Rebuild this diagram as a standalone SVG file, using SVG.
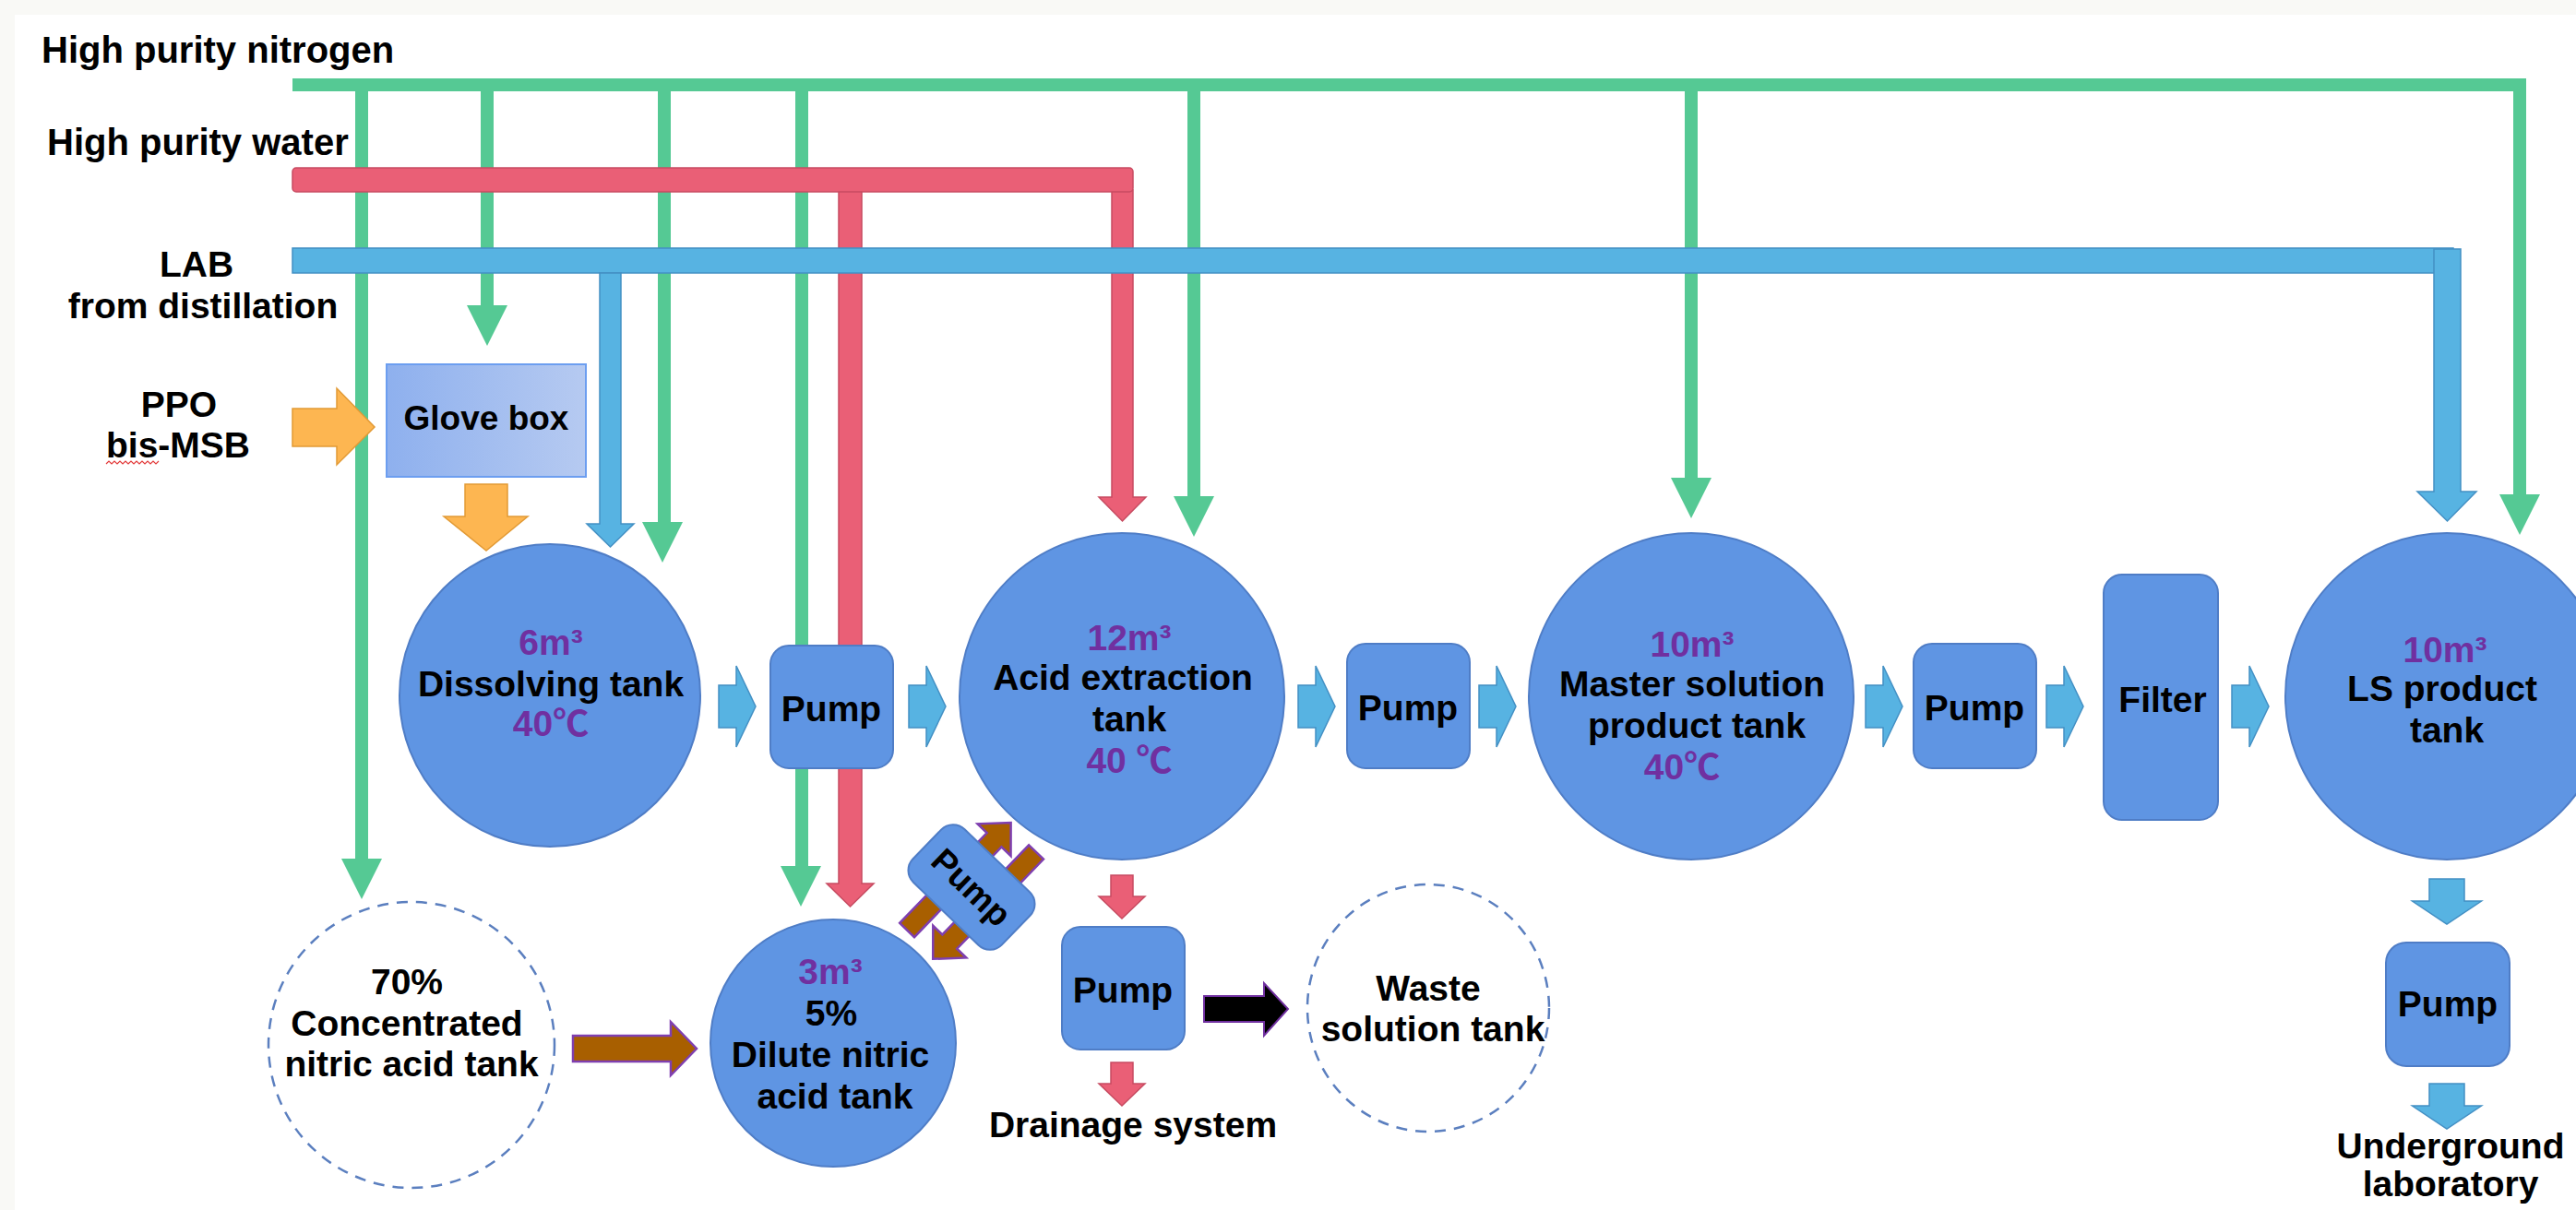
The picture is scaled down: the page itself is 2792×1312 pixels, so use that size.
<svg xmlns="http://www.w3.org/2000/svg" width="2792" height="1312" viewBox="0 0 2792 1312">
  <defs>
    <style>
      text { font-family: 'Liberation Sans', 'Noto Sans CJK SC', sans-serif; font-weight: bold; fill: #000; }
      .lbl { font-size: 40px; }
      .t { font-size: 39px; text-anchor: middle; }
      .v { font-size: 39px; text-anchor: middle; fill: #7030a0; }
      .tank { fill: #5f95e3; stroke: #4f7dc6; stroke-width: 2; }
      .box { fill: #5f95e3; stroke: #4f7dc6; stroke-width: 2; }
      .dash { fill: #fff; stroke: #5b7fbf; stroke-width: 2.5; stroke-dasharray: 12 9; }
      .gl { stroke: #55c994; stroke-width: 14; fill: none; }
      .gh { fill: #55c994; }
      .red { fill: #ea5f76; stroke: #c74b61; stroke-width: 1.5; }
      .blue { fill: #57b3e2; stroke: #4390c4; stroke-width: 1.5; }
      .orange { fill: #fdb651; stroke: #e29a35; stroke-width: 1.5; }
      .brown { fill: #a85f00; stroke: #7f3fb0; stroke-width: 2.5; }
      .black { fill: #000; stroke: #7030a0; stroke-width: 2; }
    </style>
    <!-- green arrowhead, tip at origin -->
    <path id="gHead" d="M-22,-44 L22,-44 L0,0 Z"/>
    <!-- short flow arrow pointing right, origin at tail centre -->
    <path id="flowR" d="M0,-23 H19 V-44 L40,0 L19,44 V23 H0 Z"/>
    <!-- short flow arrow pointing down, origin at tail centre -->
    <path id="flowD" d="M-19,0 H19 V24 H37.5 L0,49 L-37.5,24 H-19 Z"/>
    <!-- small red drain arrow pointing down -->
    <path id="redD" d="M-12,0 H12 V23 H25 L0,47 L-25,23 H-12 Z"/>
    <linearGradient id="gbox" x1="0" x2="1" y1="0" y2="0">
      <stop offset="0" stop-color="#8eb0ee"/>
      <stop offset="1" stop-color="#b6caf1"/>
    </linearGradient>
  </defs>

  <!-- page -->
  <rect x="0" y="0" width="2792" height="1312" fill="#f9f9f6"/>
  <rect x="16" y="16" width="2776" height="1296" fill="#ffffff"/>

  <!-- source labels -->
  <g id="src-nitrogen"><text class="lbl" x="45" y="68">High purity nitrogen</text></g>
  <g id="src-water"><text class="lbl" x="51" y="168">High purity water</text></g>
  <g id="src-lab">
    <text class="t" x="213" y="300">LAB</text>
    <text class="t" x="220" y="345">from distillation</text>
  </g>
  <g id="src-ppo">
    <text class="t" x="194" y="452">PPO</text>
    <text class="t" x="193" y="496">bis-MSB</text>
    <path d="M115,503 l3,-3 l3,3 l3,-3 l3,3 l3,-3 l3,3 l3,-3 l3,3 l3,-3 l3,3 l3,-3 l3,3 l3,-3 l3,3 l3,-3 l3,3 l3,-3 l3,3 l3,-3" fill="none" stroke="#e23a3a" stroke-width="1.2"/>
  </g>

  <!-- pipes and flow arrows -->
  <g id="connectors">
    <!-- nitrogen header and drops -->
    <path class="gl" d="M317,92 H2731 V538"/>
    <use href="#gHead" class="gh" x="2731" y="580"/>
    <line class="gl" x1="392" y1="99" x2="392" y2="933"/>
    <use href="#gHead" class="gh" x="392" y="975"/>
    <line class="gl" x1="528" y1="99" x2="528" y2="333"/>
    <use href="#gHead" class="gh" x="528" y="375"/>
    <line class="gl" x1="720" y1="99" x2="720" y2="568"/>
    <use href="#gHead" class="gh" x="718" y="610"/>
    <line class="gl" x1="869" y1="99" x2="869" y2="941"/>
    <use href="#gHead" class="gh" x="868" y="983"/>
    <line class="gl" x1="1294" y1="99" x2="1294" y2="540"/>
    <use href="#gHead" class="gh" x="1294" y="582"/>
    <line class="gl" x1="1833" y1="99" x2="1833" y2="520"/>
    <use href="#gHead" class="gh" x="1833" y="562"/>

    <!-- high purity water -->
    <path class="red" d="M909,206 H934 V958 H947 L921.5,983 L896,958 H909 Z"/>
    <path class="red" d="M1205,206 H1228 V539 H1242 L1216.5,565 L1191,539 H1205 Z"/>
    <rect class="red" x="317" y="182" width="911" height="26" rx="4"/>

    <!-- LAB header and drops -->
    <rect class="blue" x="317" y="269" width="2342" height="27"/>
    <path class="blue" d="M650,296 H673 V568 H687 L661.5,593 L636,568 H650 Z"/>
    <path class="blue" d="M2638,270 H2667 V533 H2684 L2652.5,565 L2620,533 H2638 Z"/>

    <!-- PPO / bis-MSB feed -->
    <path class="orange" d="M317,443 H365 V421 L406,463 L365,504 V484 H317 Z"/>
    <path class="orange" d="M504,525 H550 V560 H572 L527,597 L481,560 H504 Z"/>

    <!-- main flow line -->
    <use href="#flowR" class="blue" x="779" y="766"/>
    <use href="#flowR" class="blue" x="985" y="766"/>
    <use href="#flowR" class="blue" x="1407" y="766"/>
    <use href="#flowR" class="blue" x="1603" y="766"/>
    <use href="#flowR" class="blue" x="2022" y="766"/>
    <use href="#flowR" class="blue" x="2218" y="766"/>
    <use href="#flowR" class="blue" x="2419" y="766"/>
    <use href="#flowD" class="blue" x="2652" y="953"/>
    <use href="#flowD" class="blue" x="2652" y="1175"/>

    <!-- acid side -->
    <path class="brown" d="M621,1123 H727 V1108 L755,1137 L727,1166 V1151 H621 Z"/>
    <use href="#redD" class="red" x="1216" y="949"/>
    <use href="#redD" class="red" x="1216" y="1152"/>
    <path class="black" d="M1305,1080 H1370 V1066 L1396,1094 L1370,1123 V1108 H1305 Z"/>
  </g>

  <!-- nodes -->
  <g id="glove-box">
    <rect x="419" y="395" width="216" height="122" fill="url(#gbox)" stroke="#6c9ef0" stroke-width="2"/>
    <text class="t" x="527" y="466" style="font-size:37px">Glove box</text>
  </g>

  <g id="dissolving-tank">
    <ellipse class="tank" cx="596" cy="754" rx="163" ry="164"/>
    <text class="v" x="597" y="710">6m³</text>
    <text class="t" x="597" y="755">Dissolving tank</text>
    <text class="v" x="597" y="798">40℃</text>
  </g>

  <g id="pump-1">
    <rect class="box" x="835" y="700" width="133" height="133" rx="20"/>
    <text class="t" x="901" y="782">Pump</text>
  </g>

  <g id="acid-extraction-tank">
    <ellipse class="tank" cx="1216" cy="755" rx="176" ry="177"/>
    <text class="v" x="1224" y="705">12m³</text>
    <text class="t" x="1217" y="748">Acid extraction</text>
    <text class="t" x="1224" y="793">tank</text>
    <text class="v" x="1224" y="838">40 ℃</text>
  </g>

  <g id="pump-3">
    <rect class="box" x="1460" y="698" width="133" height="135" rx="20"/>
    <text class="t" x="1526" y="781">Pump</text>
  </g>

  <g id="master-solution-tank">
    <ellipse class="tank" cx="1833" cy="755" rx="176" ry="177"/>
    <text class="v" x="1834" y="712">10m³</text>
    <text class="t" x="1834" y="755">Master solution</text>
    <text class="t" x="1839" y="800">product tank</text>
    <text class="v" x="1823" y="845">40℃</text>
  </g>

  <g id="pump-4">
    <rect class="box" x="2074" y="698" width="133" height="135" rx="20"/>
    <text class="t" x="2140" y="781">Pump</text>
  </g>

  <g id="filter">
    <rect class="box" x="2280" y="623" width="124" height="266" rx="20"/>
    <text class="t" x="2344" y="772">Filter</text>
  </g>

  <g id="ls-product-tank">
    <ellipse class="tank" cx="2652" cy="755" rx="175" ry="177"/>
    <text class="v" x="2650" y="718">10m³</text>
    <text class="t" x="2647" y="760">LS product</text>
    <text class="t" x="2652" y="805">tank</text>
  </g>

  <g id="pump-5">
    <rect class="box" x="2586" y="1022" width="134" height="134" rx="22"/>
    <text class="t" x="2653" y="1102">Pump</text>
  </g>

  <g id="underground-lab">
    <text class="t" x="2656" y="1256">Underground</text>
    <text class="t" x="2656" y="1297">laboratory</text>
  </g>

  <g id="concentrated-acid-tank">
    <ellipse class="dash" cx="446" cy="1133" rx="155" ry="155"/>
    <text class="t" x="441" y="1078">70%</text>
    <text class="t" x="441" y="1123">Concentrated</text>
    <text class="t" x="446" y="1167">nitric acid tank</text>
  </g>

  <g id="dilute-acid-tank">
    <ellipse class="tank" cx="903" cy="1131" rx="133" ry="134"/>
    <text class="v" x="900" y="1067">3m³</text>
    <text class="t" x="901" y="1112">5%</text>
    <text class="t" x="900" y="1157">Dilute nitric</text>
    <text class="t" x="905" y="1202">acid tank</text>
  </g>

  <g id="pump-2" transform="translate(1053,962) rotate(44)">
    <path class="brown" d="M-29,82 H-7 V-54 H7 L-18,-80 L-43,-54 H-29 Z"/>
    <path class="brown" d="M13,-76 H35 V59 H49 L24,85 L-1,59 H13 Z"/>
    <rect class="box" x="-67" y="-40" width="134" height="80" rx="18"/>
    <text class="t" x="0" y="13" style="font-size:37px">Pump</text>
  </g>

  <g id="drain-pump">
    <rect class="box" x="1151" y="1005" width="133" height="133" rx="20"/>
    <text class="t" x="1217" y="1087">Pump</text>
  </g>

  <g id="drainage-system">
    <text class="t" x="1228" y="1233">Drainage system</text>
  </g>

  <g id="waste-tank">
    <ellipse class="dash" cx="1548" cy="1093" rx="131" ry="134"/>
    <text class="t" x="1548" y="1085">Waste</text>
    <text class="t" x="1553" y="1129">solution tank</text>
  </g>
</svg>
